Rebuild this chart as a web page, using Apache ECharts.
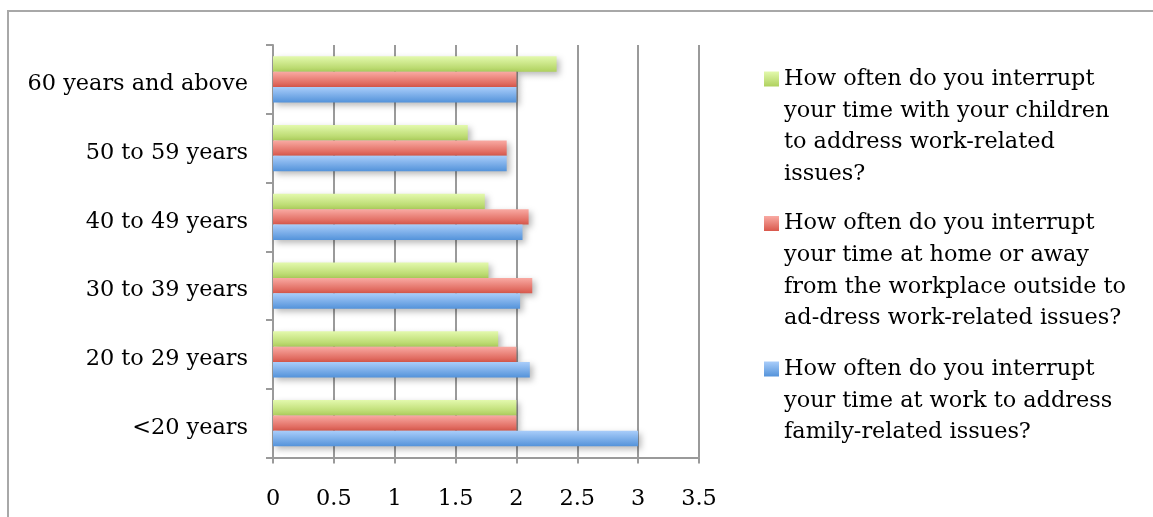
<!DOCTYPE html>
<html>
<head>
<meta charset="utf-8">
<title>Work–family interruptions by age group</title>
<script src="https://cdn.jsdelivr.net/npm/echarts@6/dist/echarts.min.js"></script>
<style>
  html, body { margin: 0; padding: 0; background: #ffffff; }
  #chart { width: 1153px; height: 517px; }
</style>
</head>
<body>
<div id="chart"></div>
<script>
// Age groups, listed bottom-to-top along the category axis
const ageGroups = ['<20 years', '20 to 29 years', '30 to 39 years', '40 to 49 years', '50 to 59 years', '60 years and above'];

// Series names (full question text)
const nameWork = 'How often do you interrupt your time at work to address family-related issues?';
const nameHome = 'How often do you interrupt your time at home or away from the workplace outside to ad-dress work-related issues?';
const nameChildren = 'How often do you interrupt your time with your children to address work-related issues?';

// Wrapped legend text for each question
const legendLines = {};
legendLines[nameChildren] = ['How often do you interrupt', 'your time with your children', 'to address work-related', 'issues?'];
legendLines[nameHome] = ['How often do you interrupt', 'your time at home or away', 'from the workplace outside to', 'ad-dress work-related issues?'];
legendLines[nameWork] = ['How often do you interrupt', 'your time at work to address', 'family-related issues?'];

// Mean scores per age group
const workValues = [3.0, 2.11, 2.03, 2.05, 1.92, 2.0];
const homeValues = [2.0, 2.0, 2.13, 2.10, 1.92, 2.0];
const childrenValues = [2.0, 1.85, 1.77, 1.74, 1.6, 2.33];

// Value axis ticks
const xMin = 0, xMax = 3.5, xStep = 0.5;

const FONT = 'DejaVu Serif';
const FONT_SIZE = 22.4;
const LINE_H = 31.7;
const GRID_GRAY = '#9a9a9a';
const TEXT_COLOR = '#000000';

function vgrad(top, bottom) {
  return {
    type: 'linear', x: 0, y: 0, x2: 0, y2: 1,
    colorStops: [{ offset: 0, color: top }, { offset: 1, color: bottom }]
  };
}

const barShadow = {
  shadowColor: 'rgba(0,0,0,0.28)',
  shadowBlur: 6,
  shadowOffsetX: 3,
  shadowOffsetY: 3
};

function makeSeries(name, values, top, bottom) {
  return {
    name: name,
    type: 'bar',
    data: values,
    barGap: '0%',
    barCategoryGap: '33%',
    itemStyle: Object.assign({ color: vgrad(top, bottom) }, barShadow),
    emphasis: { disabled: true }
  };
}

// One legend block per question. Leading blank lines put the first text
// line level with the (vertically centred) icon.
function makeLegend(name, iconCenterY) {
  const n = legendLines[name].length;
  return {
    data: [{ name: name, itemStyle: { shadowBlur: 0, shadowOffsetX: 0, shadowOffsetY: 0 } }],
    left: 764,
    top: iconCenterY - (2 * n - 1) * LINE_H / 2,
    padding: 0,
    itemWidth: 15,
    itemHeight: 15,
    icon: 'rect',
    selectedMode: false,
    formatter: function (nm) {
      const lines = legendLines[nm];
      return '\n'.repeat(lines.length - 1) + lines.join('\n');
    },
    textStyle: {
      fontFamily: FONT,
      fontSize: FONT_SIZE,
      lineHeight: LINE_H,
      color: TEXT_COLOR
    }
  };
}

const chart = echarts.init(document.getElementById('chart'), null, { renderer: 'canvas' });

chart.setOption({
  backgroundColor: '#ffffff',
  animation: false,
  graphic: [{
    type: 'rect',
    silent: true,
    z: -1,
    shape: { x: 8, y: 11, width: 1400, height: 800 },
    style: { fill: 'none', stroke: '#a8a8a8', lineWidth: 2 }
  }],
  grid: { left: 273, top: 45, right: 454, bottom: 59.5, containLabel: false },
  legend: [
    makeLegend(nameChildren, 79),
    makeLegend(nameHome, 223.5),
    makeLegend(nameWork, 369)
  ],
  xAxis: {
    type: 'value',
    min: xMin,
    max: xMax,
    interval: xStep,
    axisLine: { show: true, lineStyle: { color: GRID_GRAY, width: 2 } },
    axisTick: { show: true, length: 6, lineStyle: { color: GRID_GRAY, width: 2 } },
    splitLine: { show: true, lineStyle: { color: GRID_GRAY, width: 2 } },
    axisLabel: {
      margin: 31,
      fontFamily: FONT,
      fontSize: FONT_SIZE,
      color: TEXT_COLOR,
      formatter: function (v) { return String(v); }
    }
  },
  yAxis: {
    type: 'category',
    data: ageGroups,
    axisLine: { show: true, lineStyle: { color: GRID_GRAY, width: 2 } },
    axisTick: { show: true, length: 7, lineStyle: { color: GRID_GRAY, width: 2 } },
    axisLabel: {
      margin: 25,
      fontFamily: FONT,
      fontSize: FONT_SIZE,
      color: TEXT_COLOR,
      formatter: function (v) { return '{age|' + v + '}'; },
      rich: {
        age: {
          fontFamily: FONT,
          fontSize: FONT_SIZE,
          color: TEXT_COLOR,
          padding: [10, 0, 0, 0]
        }
      }
    }
  },
  // First series is drawn at the top of each group
  series: [
    makeSeries(nameChildren, childrenValues, '#e3f9ad', '#afd15e'),
    makeSeries(nameHome, homeValues, '#f9aaa3', '#d9584c'),
    makeSeries(nameWork, workValues, '#a9cdfa', '#5493da')
  ]
});
</script>
</body>
</html>
